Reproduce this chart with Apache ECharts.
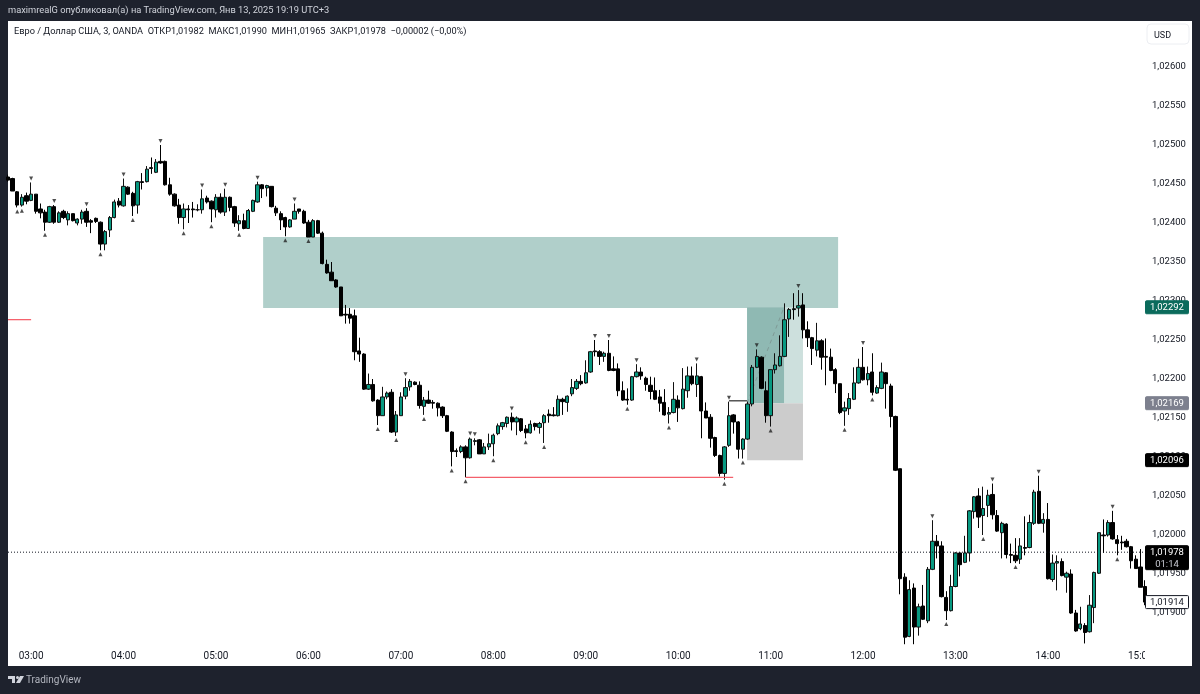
<!DOCTYPE html>
<html>
<head>
<meta charset="utf-8">
<title>EURUSD 3m</title>
<style>
  html, body { margin: 0; padding: 0; background: #1e222d; }
  #chart-container { width: 1200px; height: 694px; }
</style>
<script src="https://cdn.jsdelivr.net/npm/echarts@6/dist/echarts.min.js"></script>
</head>
<body>
<div id="chart-container"></div>
<script>
// prices are stored x 100000, one entry per 3 minute candle, first candle is 02:45
var opens = [
  102459,102457,102440,102423,102435,102429,102437,102418,102414,102401,
  102421,102401,102415,102404,102412,102400,102405,102415,102403,102406,
  102401,102373,102391,102407,102428,102422,102446,102438,102423,102453,
  102453,102471,102465,102479,102479,102449,102437,102423,102407,102418,
  102418,102417,102417,102432,102428,102417,102433,102414,102433,102421,
  102399,102403,102393,102415,102427,102449,102445,102447,102419,102412,
  102407,102395,102405,102418,102415,102401,102382,102403,102387,102347,
  102337,102327,102318,102283,102283,102281,102236,102232,102187,102193,
  102173,102153,102177,102183,102132,102153,102178,102190,102196,102192,
  102165,102173,102170,102169,102164,102153,102132,102108,102107,102113,
  102099,102120,102122,102104,102113,102117,102130,102139,102143,102151,
  102145,102149,102136,102131,102143,102138,102144,102155,102154,102153,
  102174,102170,102181,102188,102197,102195,102209,102236,102235,102229,
  102233,102213,102213,102185,102174,102173,102203,102209,102201,102192,
  102185,102177,102170,102155,102157,102173,102162,102185,102204,102193,
  102203,102159,102151,102125,102102,102079,102115,102154,102145,102110,
  102123,102168,102215,102228,102185,102153,102212,102217,102229,102277,
  102290,102291,102295,102263,102253,102237,102249,102229,102228,102212,
  102194,102159,102162,102174,102195,102215,102199,102209,102182,102188,
  102208,102191,102152,102085,101946,101870,101932,101882,101909,101890,
  101956,101992,101986,101920,101903,101934,101977,101965,101977,102030,
  102050,102025,102038,102052,102025,102003,102014,101975,101974,101969,
  101984,101984,102015,102056,102015,102020,101943,101964,101966,101946,
  101950,101900,101880,101884,101876,101907,101951,102000,102000,102016,
  101994,101991,101992,101985,101969,101959,101934
];
var closes = [
  102455,102441,102423,102433,102428,102437,102415,102413,102401,102421,
  102401,102413,102407,102412,102403,102405,102414,102401,102401,102402,
  102373,102389,102407,102427,102423,102447,102437,102422,102453,102452,
  102469,102470,102478,102477,102449,102437,102422,102407,102418,102417,
  102417,102417,102431,102427,102418,102433,102414,102433,102420,102400,
  102403,102393,102416,102429,102449,102444,102448,102421,102413,102404,
  102395,102404,102415,102415,102400,102382,102403,102387,102348,102336,
  102326,102318,102281,102282,102278,102235,102232,102187,102193,102172,
  102153,102177,102182,102132,102154,102177,102189,102197,102193,102166,
  102173,102169,102169,102163,102153,102133,102107,102107,102113,102099,
  102123,102121,102104,102113,102117,102128,102140,102144,102151,102145,
  102150,102134,102131,102142,102139,102143,102153,102153,102153,102174,
  102171,102178,102189,102197,102194,102208,102235,102235,102229,102233,
  102211,102211,102185,102173,102173,102203,102209,102204,102193,102184,
  102174,102169,102154,102157,102174,102163,102187,102204,102194,102204,
  102159,102150,102124,102102,102079,102113,102153,102145,102110,102123,
  102168,102215,102229,102188,102153,102212,102218,102229,102276,102289,
  102289,102294,102263,102253,102239,102249,102228,102228,102211,102194,
  102157,102163,102175,102195,102215,102199,102207,102183,102189,102209,
  102194,102152,102083,101944,101869,101930,101882,101908,101892,101956,
  101992,101986,101921,101903,101934,101977,101962,101977,102031,102049,
  102023,102034,102051,102026,102005,102015,101975,101974,101967,101986,
  101983,102016,102055,102015,102020,101944,101964,101966,101948,101951,
  101900,101877,101886,101875,101910,101952,102003,101999,102016,101995,
  101989,101990,101985,101967,101957,101933,101914
];
var lows = [
  102453,102441,102420,102421,102424,102428,102412,102406,102390,102400,
  102399,102400,102405,102397,102402,102397,102399,102395,102387,102400,
  102365,102365,102382,102406,102420,102421,102436,102409,102412,102443,
  102452,102463,102464,102476,102448,102435,102421,102399,102392,102400,
  102407,102415,102412,102425,102401,102407,102412,102409,102415,102395,
  102390,102392,102393,102414,102426,102432,102434,102420,102409,102391,
  102383,102394,102405,102412,102399,102382,102382,102386,102347,102335,
  102326,102317,102281,102271,102271,102224,102222,102186,102186,102171,
  102141,102153,102174,102131,102127,102153,102174,102185,102192,102162,
  102154,102168,102162,102152,102150,102132,102088,102100,102105,102074,
  102098,102115,102104,102104,102109,102101,102128,102135,102138,102134,
  102128,102132,102124,102130,102134,102130,102118,102144,102152,102152,
  102154,102158,102178,102186,102192,102194,102208,102229,102218,102222,
  102210,102210,102178,102172,102167,102172,102202,102199,102185,102174,
  102173,102158,102153,102143,102156,102145,102161,102176,102192,102177,
  102124,102150,102112,102100,102075,102071,102113,102130,102098,102098,
  102122,102165,102214,102187,102144,102139,102207,102216,102228,102254,
  102276,102280,102252,102241,102218,102229,102212,102192,102210,102182,
  102155,102140,102154,102173,102194,102198,102192,102179,102181,102187,
  102162,102138,102082,101924,101860,101869,101860,101871,101891,101887,
  101955,101970,101920,101891,101902,101933,101947,101964,101966,102021,
  102009,102000,102023,102020,102004,101970,101970,101964,101964,101963,
  101974,101983,102013,102014,102003,101943,101940,101929,101947,101926,
  101899,101876,101878,101861,101875,101887,101950,101977,101998,101994,
  101974,101981,101984,101957,101957,101933,101910
];
var highs = [
  102462,102458,102441,102437,102439,102452,102437,102425,102417,102422,
  102423,102415,102417,102415,102412,102406,102417,102419,102405,102407,
  102402,102391,102409,102430,102432,102457,102447,102440,102454,102464,
  102473,102484,102482,102500,102480,102458,102438,102431,102425,102423,
  102427,102424,102443,102435,102429,102437,102438,102444,102434,102422,
  102410,102412,102418,102430,102453,102450,102449,102447,102422,102415,
  102408,102405,102425,102418,102417,102404,102405,102404,102389,102353,
  102350,102328,102318,102295,102291,102289,102253,102233,102207,102200,
  102174,102190,102184,102187,102159,102183,102201,102200,102197,102197,
  102177,102185,102173,102170,102165,102154,102133,102111,102115,102115,
  102125,102124,102123,102118,102130,102130,102143,102145,102152,102157,
  102152,102150,102141,102147,102144,102145,102155,102161,102164,102179,
  102176,102179,102200,102200,102205,102224,102236,102250,102237,102235,
  102250,102229,102220,102197,102188,102204,102219,102215,102203,102203,
  102202,102186,102187,102164,102196,102179,102214,102216,102216,102220,
  102204,102170,102155,102126,102103,102114,102171,102155,102146,102124,
  102171,102218,102238,102229,102197,102212,102233,102256,102297,102291,
  102310,102314,102310,102274,102254,102272,102251,102252,102239,102214,
  102194,102171,102182,102215,102226,102241,102216,102233,102192,102221,
  102209,102194,102153,102085,101951,101942,101938,101912,101936,101959,
  102019,102000,101992,101928,101949,101978,101978,101999,102032,102050,
  102060,102062,102058,102066,102032,102017,102015,101989,101996,101996,
  102024,102026,102058,102076,102028,102041,101975,101974,101970,101953,
  101956,101904,101908,101887,101923,101953,102003,102020,102019,102031,
  102000,101999,101995,101986,101974,101982,101942
];

// candle numbers that carry a fractal mark
var fractalUp = [5,10,17,25,33,42,47,54,62,86,100,101,109,127,130,136,149,156,162,171,185,200,213,223,239];
var fractalDown = [2,3,8,20,27,38,44,50,60,65,80,84,90,96,99,105,112,116,134,143,155,159,165,181,187,203,211,218,240];

var hourTicks = [5,25,45,65,85,105,125,145,165,185,205,225,245];
var hourLabels = ['03:00','04:00','05:00','06:00','07:00','08:00','09:00','10:00','11:00','12:00','13:00','14:00','15:00'];
var priceTicks = [1.026,1.0255,1.025,1.0245,1.024,1.0235,1.023,1.0225,1.022,1.0215,1.021,1.0205,1.02,1.0195,1.019];

// tags on the price scale
var tagPrices = [1.02292,1.02169,1.02096,1.01978,1.01914];
var tagLabels = ['1,02292','1,02169','1,02096','1,01978','1,01914'];
var tagFills = ['#0b6b5c','#7d808e','#000000','#000000','#ffffff'];
var tagInks = ['#ffffff','#ffffff','#ffffff','#ffffff','#131722'];
var countdown = '01:14';

var lastIndex = opens.length - 1;
var font = 'Roboto, sans-serif';

var dom = document.getElementById('chart-container');
var myChart = echarts.init(dom, null, { renderer: 'canvas' });

var candles = opens.map(function (o, i) {
  return [i, o / 100000, closes[i] / 100000, lows[i] / 100000, highs[i] / 100000];
});

function box(x1, p1, x2, p2, color) {
  return [{ coord: [x1, p1], itemStyle: { color: color } }, { coord: [x2, p2] }];
}

// drawn trend lines, each one is a two point line series
function segment(x1, p1, x2, p2, style, z) {
  return {
    type: 'line',
    z: z,
    silent: true,
    showSymbol: false,
    data: [[x1, p1], [x2, p2]],
    lineStyle: style
  };
}

function renderTag(params, api) {
  var i = params.dataIndex;
  var pt = api.coord([api.value(0), api.value(1)]);
  var isLive = tagLabels[i] === '1,01978';
  var children = [
    {
      type: 'rect',
      shape: { x: pt[0] + 0.5, y: pt[1] - 6.5, width: 43, height: isLive ? 24 : 13, r: 1 },
      style: { fill: tagFills[i], stroke: tagFills[i] === '#ffffff' ? '#131722' : tagFills[i], lineWidth: 1 }
    },
    {
      type: 'text',
      style: { x: pt[0] + 22, y: pt[1] + 0.5, text: tagLabels[i], fill: tagInks[i], font: '9.5px ' + font, textAlign: 'center', textVerticalAlign: 'middle' }
    }
  ];
  if (isLive) {
    children.push({
      type: 'text',
      style: { x: pt[0] + 22, y: pt[1] + 12, text: countdown, fill: '#c8cad2', font: '9.5px ' + font, textAlign: 'center', textVerticalAlign: 'middle' }
    });
  }
  return { type: 'group', children: children };
}

var option = {
  backgroundColor: '#1e222d',
  animation: false,
  title: [
    {
      text: 'maximrealG опубликовал(а) на TradingView.com, Янв 13, 2025 19:19 UTC+3',
      left: 8, top: 6, padding: 0,
      textStyle: { color: '#d1d4dc', fontSize: 9.3, fontWeight: 'normal', fontFamily: font }
    },
    {
      text: 'Евро / Доллар США, 3, OANDA  ОТКР1,01982  МАКС1,01990  МИН1,01965  ЗАКР1,01978  −0,00002 (−0,00%)',
      left: 14, top: 27, padding: 0,
      textStyle: { color: '#131722', fontSize: 9.2, fontWeight: 'normal', fontFamily: font }
    },
    {
      text: 'TradingView',
      left: 26, top: 675, padding: 0,
      textStyle: { color: '#b2b5be', fontSize: 10, fontWeight: 'normal', fontFamily: font }
    },
    {
      text: 'USD',
      left: 1154, top: 31, padding: 0,
      textStyle: { color: '#131722', fontSize: 9, fontWeight: 'normal', fontFamily: font }
    }
  ],
  graphic: [
    { type: 'rect', z: -1, shape: { x: 8, y: 21, width: 1184, height: 645 }, style: { fill: '#ffffff' } },
    // the price scale cuts off the last time label
    { type: 'rect', z: 50, shape: { x: 1145, y: 646, width: 47, height: 20 }, style: { fill: '#ffffff' } },
    { type: 'rect', z: 50, shape: { x: 1147, y: 24, width: 42, height: 20, r: 4 }, style: { fill: 'none', stroke: '#eceef2' } },
    // TradingView logo
    { type: 'polygon', z: 50, shape: { points: [[8, 676], [15, 676], [15, 683], [12, 683], [12, 679], [8, 679]] }, style: { fill: '#d1d4dc' } },
    { type: 'circle', z: 50, shape: { cx: 17.5, cy: 677.5, r: 1.5 }, style: { fill: '#d1d4dc' } },
    { type: 'polygon', z: 50, shape: { points: [[20, 676], [24, 676], [20, 683], [16, 683]] }, style: { fill: '#d1d4dc' } }
  ],
  grid: { left: 8, right: 55, top: 22, bottom: 49 },
  xAxis: {
    type: 'value',
    min: 0,
    max: lastIndex,
    axisLine: { show: false },
    axisTick: { show: false },
    splitLine: { show: false },
    axisLabel: {
      customValues: hourTicks,
      color: '#131722',
      fontSize: 10,
      fontFamily: font,
      margin: 6,
      formatter: function (v) { return hourLabels[hourTicks.indexOf(v)]; }
    }
  },
  yAxis: {
    type: 'value',
    position: 'right',
    min: 1.01859,
    max: 1.026577,
    axisLine: { show: false },
    axisTick: { show: false },
    splitLine: { show: false },
    axisLabel: {
      customValues: priceTicks,
      color: '#131722',
      fontSize: 9.5,
      fontFamily: font,
      margin: 7,
      verticalAlignMaxLabel: 'middle',
      padding: [2, 0, 0, 0],
      formatter: function (v) { return v.toFixed(5).replace('.', ','); }
    }
  },
  series: [
    {
      type: 'candlestick',
      z: 2,
      data: candles,
      encode: { x: 0, y: [1, 2, 3, 4] },
      barWidth: 3.8,
      itemStyle: {
        color: '#089981',
        color0: '#000000',
        borderColor: '#111111',
        borderColor0: '#000000',
        borderColorDoji: '#111111',
        borderWidth: 1
      },
      markArea: {
        silent: true,
        data: [
          box(55.2, 1.02382, 179.6, 1.02291, '#b0cfca'),
          box(159.9, 1.02292, 172, 1.02169, '#cde0dd'),
          box(159.9, 1.02292, 167.9, 1.02169, '#8fb9b3'),
          box(159.9, 1.02169, 172, 1.02096, '#cccccc')
        ]
      }
    },
    segment(159.9, 1.02169, 167.9, 1.02292, { color: '#7f9a96', width: 1, type: [4, 4] }, 1.5),
    segment(0, 1.02276, 5, 1.02276, { color: '#f23645', width: 1 }, 3),
    segment(99, 1.02074, 156.9, 1.02074, { color: '#f4606b', width: 1.3 }, 3),
    segment(156, 1.02172, 159.9, 1.02172, { color: '#000000', width: 1 }, 3),
    segment(0, 1.01978, lastIndex, 1.01978, { color: '#131722', width: 1, type: [1, 2] }, 3),
    {
      type: 'scatter',
      data: fractalUp.map(function (i) { return [i, highs[i] / 100000]; }),
      symbol: 'triangle',
      symbolRotate: 180,
      symbolSize: 4,
      symbolOffset: [0, -4],
      itemStyle: { color: '#222222' },
      silent: true
    },
    {
      type: 'scatter',
      data: fractalDown.map(function (i) { return [i, lows[i] / 100000]; }),
      symbol: 'triangle',
      symbolSize: 4,
      symbolOffset: [0, 4],
      itemStyle: { color: '#222222' },
      silent: true
    },
    {
      type: 'custom',
      z: 10,
      silent: true,
      renderItem: renderTag,
      encode: { x: 0, y: 1 },
      data: tagPrices.map(function (p) { return [lastIndex, p]; })
    }
  ]
};

myChart.setOption(option);
window.addEventListener('resize', myChart.resize);
</script>
</body>
</html>
